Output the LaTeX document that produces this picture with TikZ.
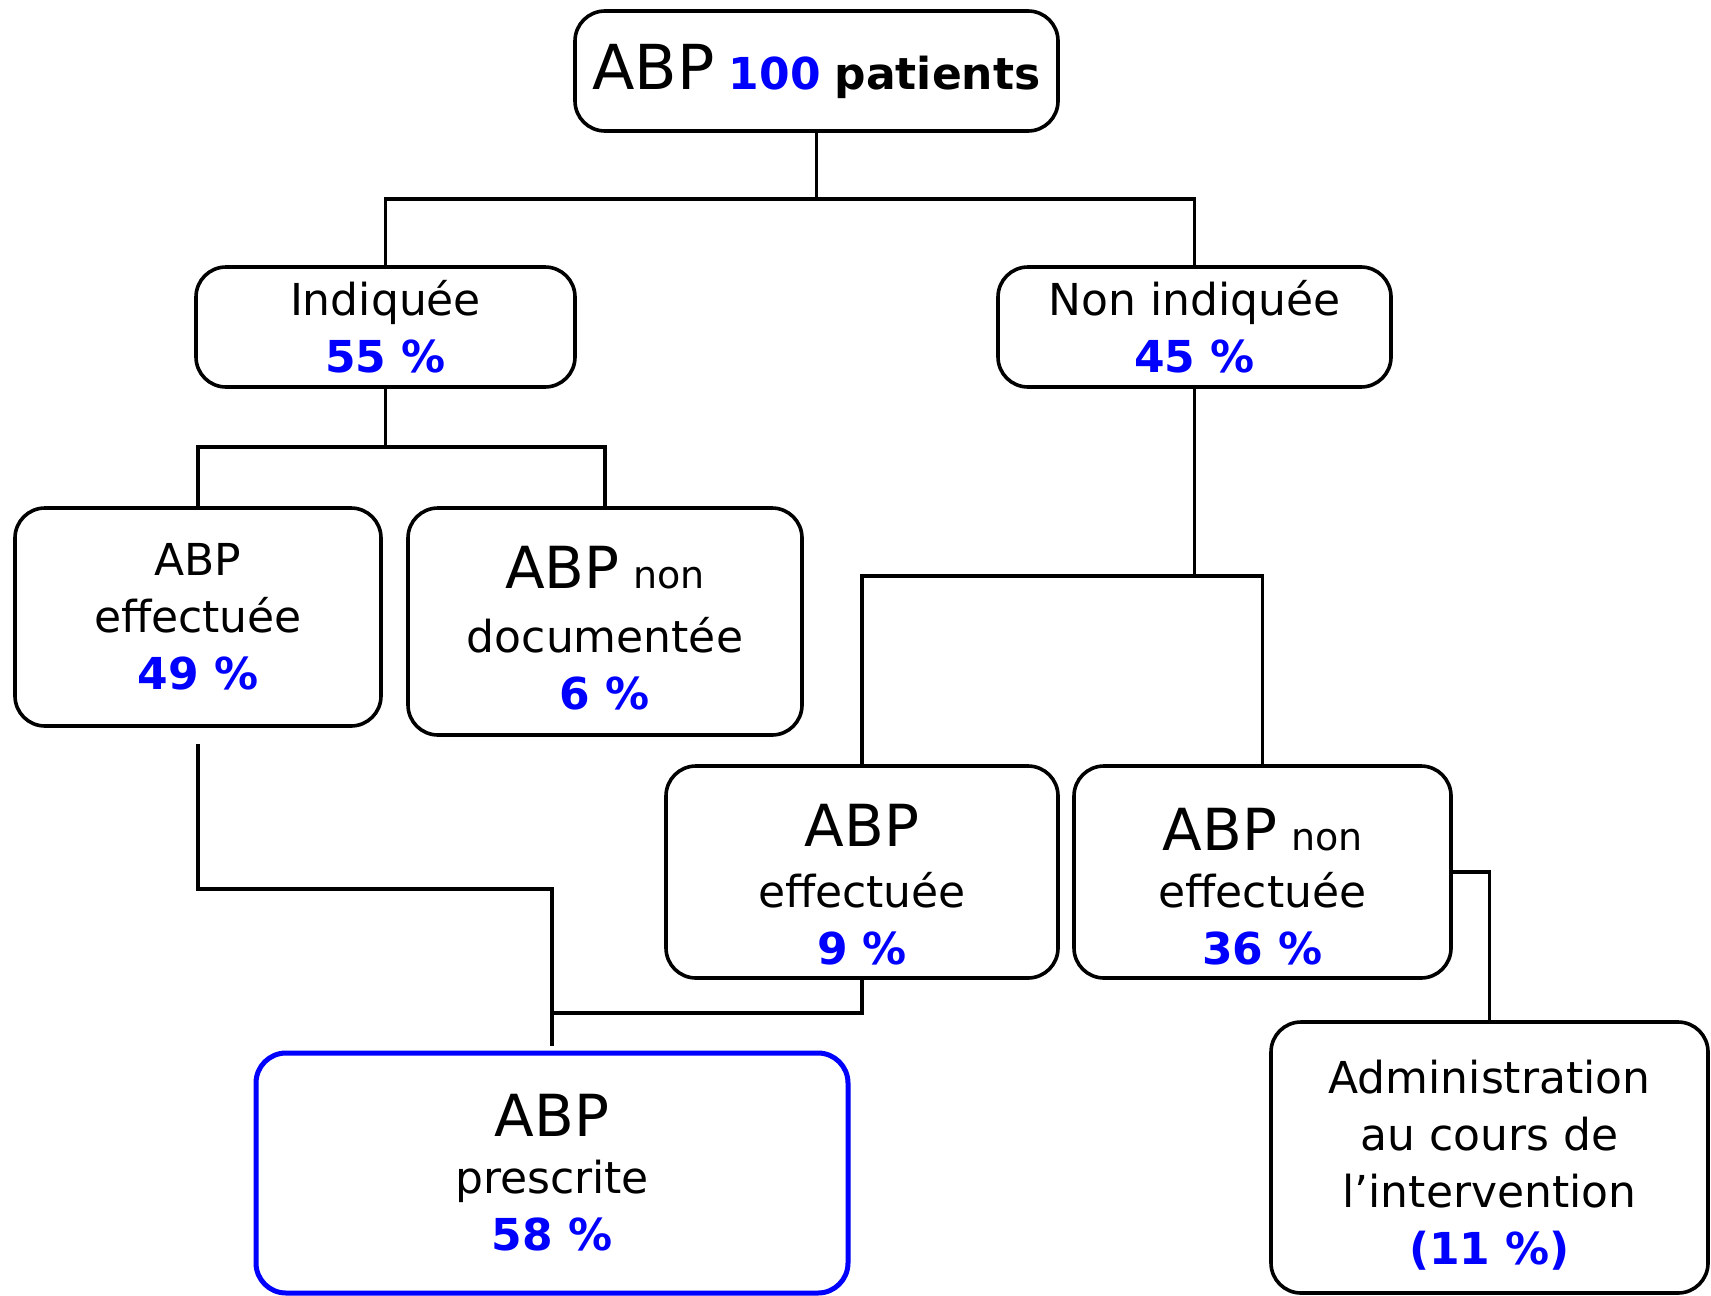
\documentclass[tikz,border=0pt]{standalone}
\usepackage{fontspec}
\setmainfont{DejaVu Sans}
\newcommand\bluenum[1]{{\bfseries\color{blue}#1}}
\newcommand\bigabp{{\fontsize{29}{34}\selectfont ABP}}
\newcommand\smallnon{{\fontsize{19}{24}\selectfont non}}
\newcommand\liftabp[1]{\vphantom{\raisebox{#1}{\bigabp}}}
\newcommand\liftad[1]{\vphantom{\raisebox{#1}{Ad}}}
\tikzset{
  box/.style={draw, line width=1.8pt, rounded corners=15pt, align=center, inner sep=0pt,
    font=\fontsize{22}{28.5}\selectfont, fill=white},
  conn/.style={line width=1.8pt},
}
\begin{document}
\begin{tikzpicture}[x=0.5pt,y=-0.5pt]
\useasboundingbox (0,0) rectangle (1711,1295);
\node[box, minimum width=241.5pt, minimum height=60pt] (top) at (816.5,71)
  {{\fontsize{31}{36}\selectfont ABP} \bluenum{100} {\bfseries patients}};
\node[box, minimum width=189.5pt, minimum height=60pt] (ind) at (385.5,327)
  {Indiquée\\\bluenum{55 \%}};
\node[box, minimum width=196.5pt, minimum height=60pt] (nind) at (1194.5,327)
  {Non indiquée\\\bluenum{45 \%}};
\node[box, minimum width=183pt, minimum height=109pt] (effL) at (198,617)
  {ABP\\effectuée\\\bluenum{49 \%}};
\node[box, minimum width=197pt, minimum height=113.5pt] (nondoc) at (605,621.5)
  {\liftabp{6.5pt}\bigabp\ \smallnon\\[3.3pt]documentée\\\bluenum{6 \%}};
\node[box, minimum width=196pt, minimum height=106pt] (effM) at (862,872)
  {\liftabp{13pt}\bigabp\\[2pt]effectuée\\\bluenum{9 \%}};
\node[box, minimum width=188.5pt, minimum height=106pt] (neff) at (1262.5,872)
  {\liftabp{15pt}\bigabp\ \smallnon\\effectuée\\\bluenum{36 \%}};
\node[box, minimum width=218.5pt, minimum height=135.5pt] (admin) at (1489.5,1157.5)
  {\liftad{7.6pt}Administration\\au cours de\\l’intervention\\\bluenum{(11 \%)}};
\node[box, draw=blue, line width=2.5pt, minimum width=296pt, minimum height=120pt] (presc) at (552,1173)
  {\bigabp\\prescrite\\\bluenum{58 \%}};
% connectors
\draw[conn] (top.south) -- (top.south |- 0,199);
\draw[conn] (ind.north) -- (ind.north |- 0,199) -- (nind.north |- 0,199) -- (nind.north);
\draw[conn] (ind.south) -- (ind.south |- 0,447);
\draw[conn] (effL.north) -- (effL.north |- 0,447) -- (nondoc.north |- 0,447) -- (nondoc.north);
\draw[conn] (nind.south) -- (nind.south |- 0,576);
\draw[conn] (effM.north) -- (effM.north |- 0,576) -- (neff.north |- 0,576) -- (neff.north);
\draw[conn] (neff.east) -| (admin.north);
\coordinate (lgap) at ([yshift=-8pt]effL.south);
\draw[conn] (lgap) -- (lgap |- 0,889) -- (presc.north |- 0,889) -- ([yshift=2.5pt]presc.north);
\draw[conn] (effM.south) -- (effM.south |- 0,1013) -- (presc.north |- 0,1013);
\end{tikzpicture}
\end{document}
